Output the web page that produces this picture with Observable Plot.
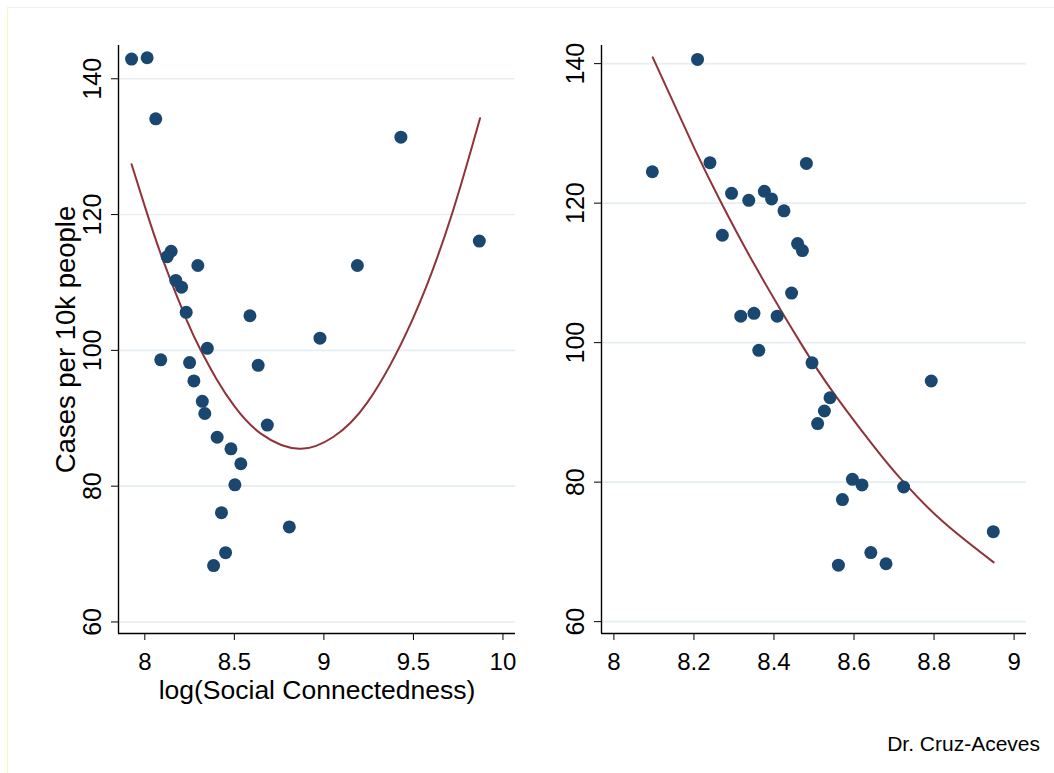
<!DOCTYPE html>
<html><head><meta charset="utf-8">
<script src="https://cdn.jsdelivr.net/npm/d3@7"></script>
<script src="https://cdn.jsdelivr.net/npm/@observablehq/plot@0.6"></script>
<style>
body{margin:0;background:#fff;}
#wrap{position:relative;width:1054px;height:773px;overflow:hidden;font-family:"Liberation Sans",Arial,sans-serif;background:#fff;}
#left,#right{position:absolute;top:0;}
#left{left:0}
#right{left:527px}
#caption{position:absolute;right:14px;top:733px;font-size:21px;line-height:21px;color:#000;white-space:nowrap;}
#edge{position:absolute;left:7px;top:7px;right:0;bottom:0;border-left:1px solid #f8f8b8;border-top:1px solid #f1f1f1;pointer-events:none}
</style></head><body>
<div id="wrap"><div id="edge"></div><div id="left"></div><div id="right"></div><div id="caption">Dr. Cruz-Aceves</div></div>
<script>
// ---- data ----
const leftX = [7.926, 8.013, 8.061, 9.430, 9.868, 8.147, 8.125, 8.296, 9.187, 8.173, 8.205, 8.231, 8.587, 8.978, 8.349, 8.089, 8.250, 8.633, 8.274, 8.321, 8.335, 8.684, 8.404, 8.481, 8.536, 8.503, 8.428, 8.807, 8.451, 8.384];
const leftY = [142.9, 143.1, 134.1, 131.4, 116.1, 114.6, 113.8, 112.5, 112.5, 110.3, 109.3, 105.6, 105.1, 101.8, 100.3, 98.6, 98.2, 97.8, 95.5, 92.5, 90.7, 89.0, 87.2, 85.5, 83.3, 80.2, 76.1, 74.0, 70.2, 68.3];
const rightX = [8.209, 8.096, 8.240, 8.481, 8.294, 8.376, 8.337, 8.394, 8.425, 8.271, 8.459, 8.471, 8.444, 8.317, 8.350, 8.408, 8.362, 8.495, 8.793, 8.540, 8.526, 8.509, 8.596, 8.620, 8.724, 8.571, 8.948, 8.642, 8.680, 8.561];
const rightY = [140.6, 124.5, 125.8, 125.7, 121.4, 121.7, 120.4, 120.6, 118.9, 115.4, 114.2, 113.2, 107.1, 103.8, 104.2, 103.8, 98.9, 97.1, 94.5, 92.1, 90.2, 88.4, 80.4, 79.6, 79.3, 77.5, 72.9, 69.9, 68.3, 68.1];
// fitted curves at these x positions
const leftFitX = [7.926, 8.0, 8.1, 8.233, 8.311, 8.4, 8.5, 8.65, 8.864, 9.05, 9.242, 9.494, 9.708, 9.872];
const leftFitY = [127.4, 121.2, 113.4, 104.5, 100.1, 95.8, 91.8, 87.7, 85.5, 87.2, 92.3, 104.5, 119.5, 134.2];
const rightFitX = [8.097, 8.2, 8.266, 8.35, 8.466, 8.55, 8.65, 8.718, 8.817, 8.949];
const rightFitY = [140.9, 128.0, 120.3, 111.3, 100.0, 92.7, 85.1, 80.4, 74.6, 68.5];
const leftXTicks = [8, 8.5, 9, 9.5, 10];
const rightXTicks = [8, 8.2, 8.4, 8.6, 8.8, 9];
const yTicks = [60, 80, 100, 120, 140];
const xTitle = "log(Social Connectedness)";
const yTitle = "Cases per 10k people";

const font = '"Liberation Sans", Arial, sans-serif';

function panel({xs, ys, fx, fy, xDomain, yDomain, xTicks, marginLeft, marginRight, showTitles}) {
  const pts = xs.map((x, i) => ({x, y: ys[i]}));
  const fit = fx.map((x, i) => ({x, y: fy[i]}));
  const marks = [
    Plot.gridY(yTicks, {stroke: "#e6eef1", strokeOpacity: 1, strokeWidth: 1.6}),
    Plot.ruleX([xDomain[0]], {stroke: "#000", strokeWidth: 1.4}),
    Plot.ruleY([yDomain[0]], {stroke: "#000", strokeWidth: 1.4}),
    Plot.axisX(xTicks, {tickSize: 7, tickPadding: 12, label: null, fontSize: 24, tickFormat: d => String(d)}),
    Plot.axisY(yTicks, {tickRotate: -90, tickSize: 7, tickPadding: 11, label: null, fontSize: 25, tickFormat: d => String(d)}),
    Plot.line(fit, {x: "x", y: "y", stroke: "#8f3338", strokeWidth: 2, curve: "natural"}),
    Plot.dot(pts, {x: "x", y: "y", r: 6.5, fill: "#1a476f", stroke: "none"})
  ];
  if (showTitles) {
    marks.push(Plot.text([xTitle], {frameAnchor: "bottom", dy: 46.7, lineAnchor: "top", textAnchor: "middle", fontSize: 26.5, text: d => d, fill: "#000"}));
    marks.push(Plot.text([yTitle], {frameAnchor: "left", dx: -44, rotate: -90, lineAnchor: "bottom", textAnchor: "middle", fontSize: 27.5, text: d => d, fill: "#000"}));
  }
  return Plot.plot({
    width: 527, height: 773,
    marginLeft, marginRight, marginTop: 45, marginBottom: 140,
    x: {domain: xDomain},
    y: {domain: yDomain},
    style: {fontFamily: font, fontSize: "25px", color: "#000", background: "transparent", overflow: "visible"},
    marks
  });
}

document.getElementById("left").append(panel({
  xs: leftX, ys: leftY, fx: leftFitX, fy: leftFitY, xDomain: [7.853, 10.07], yDomain: [58.3, 144.9],
  xTicks: leftXTicks, marginLeft: 118, marginRight: 12, showTitles: true
}));
document.getElementById("right").append(panel({
  xs: rightX, ys: rightY, fx: rightFitX, fy: rightFitY, xDomain: [7.969, 9.031], yDomain: [58.3, 142.6],
  xTicks: rightXTicks, marginLeft: 74, marginRight: 28, showTitles: false
}));
</script>
</body></html>
